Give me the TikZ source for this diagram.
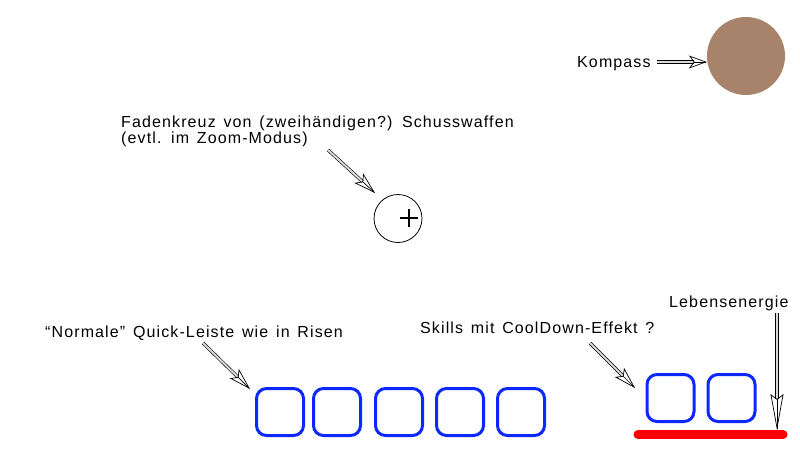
\documentclass[tikz,border=0pt]{standalone}
\usepackage{fontspec}
\setmainfont{Liberation Sans}[LetterSpace=7,WordSpace=1.4]
\usetikzlibrary{positioning,arrows.meta,calc}
\definecolor{compassbrown}{RGB}{166,131,106}
\definecolor{slotblue}{RGB}{10,40,255}
\newcommand{\hollowarrow}[3][22pt]{%
  \draw [shaft,shorten >=#1-5pt] (#2) -- (#3);
  \draw [arrowtip={#1}] ($(#3)!1pt!(#2)$) -- (#3);}
\begin{document}
\begin{tikzpicture}[x=1pt,y=-1pt,node distance=7pt]
\tikzstyle{label}=[font=\fontsize{16}{16}\selectfont,inner sep=0pt,anchor=base west,align=left]
\tikzstyle{slot}=[draw=slotblue,line width=3pt,rounded corners=10pt,minimum size=47pt,inner sep=0pt]
\tikzstyle{shaft}=[draw=black,double=black!15,double distance=2pt,line width=0.6pt]
\tikzset{arrowtip/.style={draw=black,line width=0.7pt,-{Stealth[open,length=#1,width=13pt,inset=5pt]}}}
\useasboundingbox[fill=white] (0,0) rectangle (800,450);
% compass
\node [circle,fill=compassbrown,minimum size=78pt,inner sep=0pt] (comp) at (746,56) {};
\node [label] (kl) at (577,67) {Kompass};
\coordinate (kt) at (657,62);
\coordinate (kh) at (comp.west |- kt);
\hollowarrow[18pt]{kt}{kh}
% crosshair
\node [circle,draw,line width=0.8pt,minimum size=48pt,inner sep=0pt] (cross) at (398,218.5) {};
\draw [line width=2.8pt] (400,218) -- (418,218) (409,209) -- (409,227);
\node [label] (cl) at (121,143) {Fadenkreuz von (zweihändigen?) Schusswaffen\\(evtl. im Zoom-Modus)};
\coordinate (ct) at (328,150);
\coordinate (ch) at (375,193);
\hollowarrow{ct}{ch}
% quick bar
\node [slot] (q1) at (280,412) {};
\node [slot,right=7pt of q1] (q2) {};
\node [slot,right=12pt of q2] (q3) {};
\node [slot,right=11pt of q3] (q4) {};
\node [slot,right=11pt of q4] (q5) {};
\node [label] (ql) at (45,337) {“Normale” Quick-Leiste wie in Risen};
\coordinate (qt) at (203,343);
\coordinate (qh) at (250,389);
\hollowarrow{qt}{qh}
% skills
\node [slot] (s1) at (670.5,398) {};
\node [slot,right=11pt of s1] (s2) {};
\node [label] (sl) at (420,333) {Skills mit CoolDown-Effekt ?};
\coordinate (st) at (590,343);
\coordinate (sh) at (635,388);
\hollowarrow{st}{sh}
% life bar
\coordinate (bl) at (638,434.5);
\coordinate (br) at (783,434.5);
\draw [red,line width=9pt,line cap=round] (bl) -- (br);
\node [label] (ll) at (669,307) {Lebensenergie};
\coordinate (lt) at (777,313);
\coordinate (lh) at (777,430);
\hollowarrow[36pt]{lt}{lh}
\end{tikzpicture}
\end{document}
